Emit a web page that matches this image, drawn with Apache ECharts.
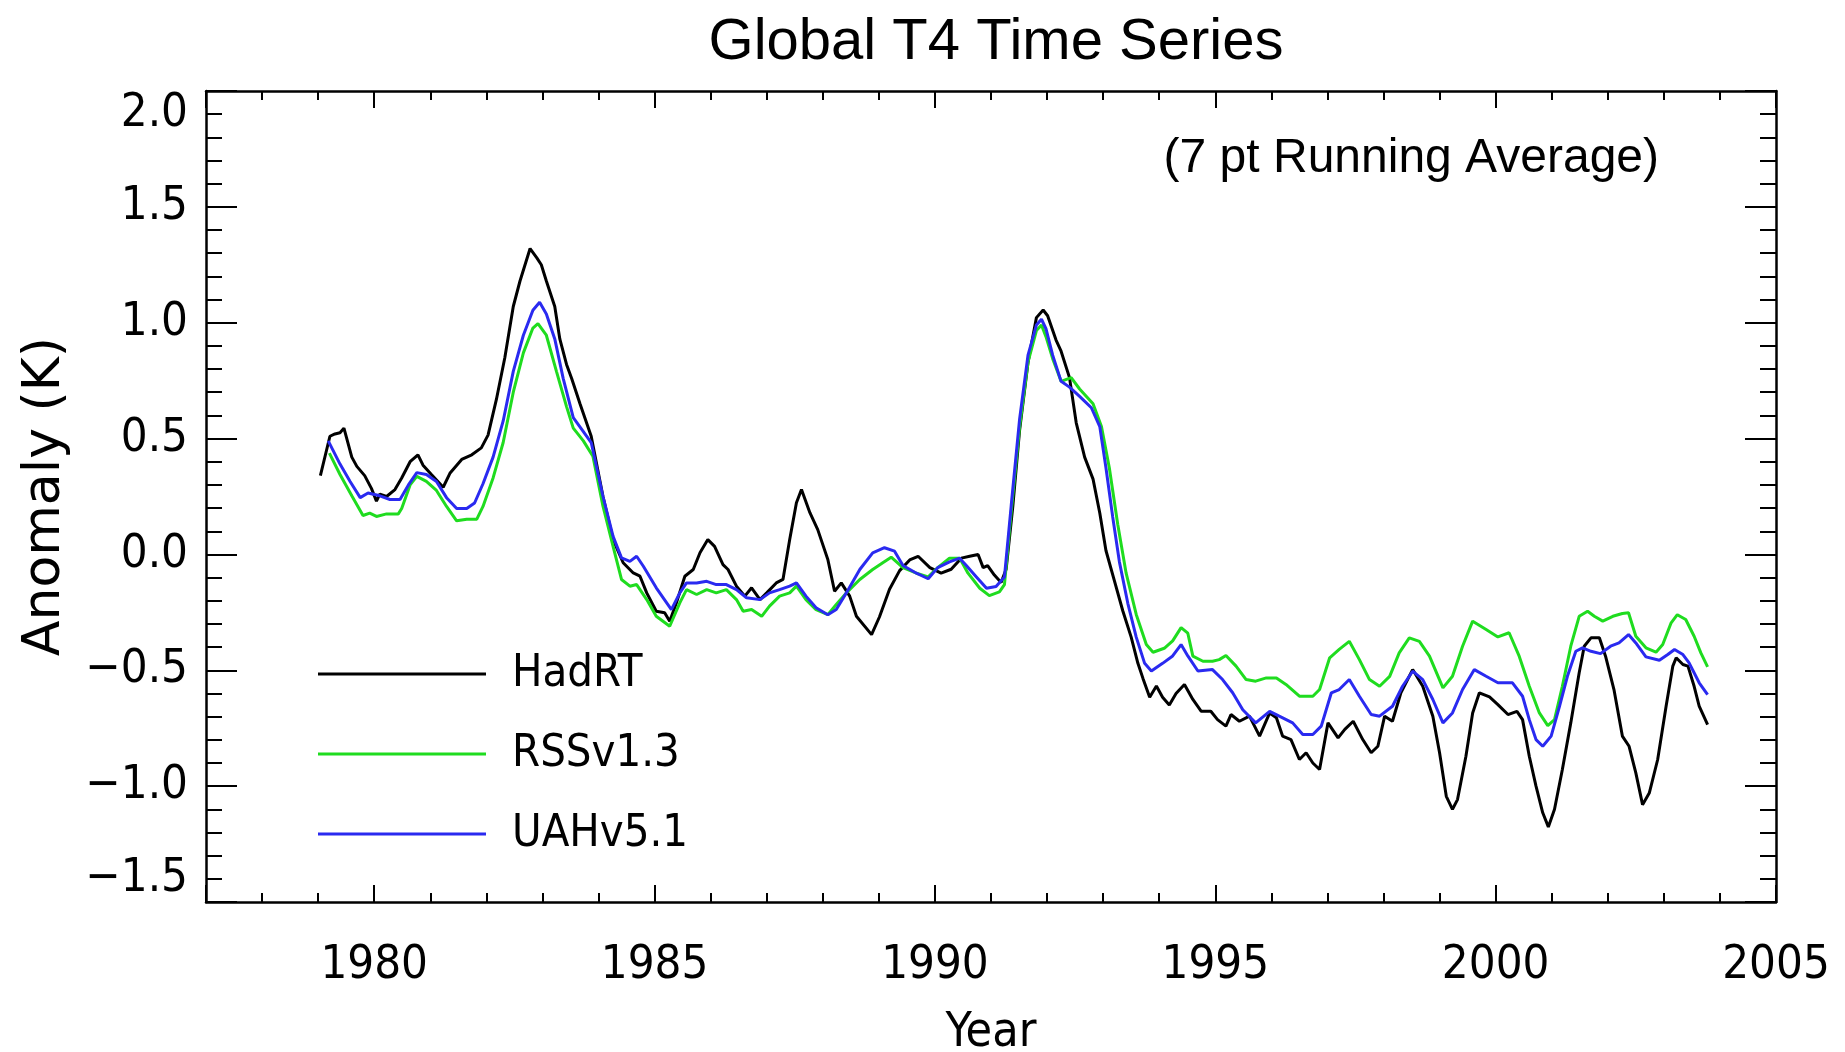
<!DOCTYPE html>
<html><head><meta charset="utf-8">
<script src="https://cdn.jsdelivr.net/npm/echarts@6/dist/echarts.min.js"></script>
<style>html,body{margin:0;padding:0;background:#fff}#c{width:1845px;height:1052px}</style>
</head><body><div id="c"></div>
<script>
// ---- data ----
const seriesNames = ['HadRT', 'RSSv1.3', 'UAHv5.1'];
const yTickValues = [-1.5, -1.0, -0.5, 0.0, 0.5, 1.0, 1.5, 2.0];

const hadrtYears = [1979.04,1979.21,1979.30,1979.39,1979.46,1979.60,1979.69,1979.83,1979.95,1980.04,1980.10,1980.22,1980.37,1980.49,1980.64,1980.78,1980.87,1981.02,1981.23,1981.35,1981.56,1981.74,1981.91,1982.03,1982.18,1982.33,1982.48,1982.60,1982.78,1982.90,1982.98,1983.07,1983.22,1983.31,1983.43,1983.52,1983.67,1983.87,1984.08,1984.26,1984.44,1984.62,1984.74,1984.86,1985.03,1985.18,1985.27,1985.39,1985.54,1985.69,1985.81,1985.95,1986.07,1986.22,1986.31,1986.46,1986.61,1986.73,1986.88,1987.00,1987.17,1987.29,1987.41,1987.53,1987.62,1987.77,1987.91,1988.09,1988.21,1988.33,1988.48,1988.60,1988.87,1989.01,1989.19,1989.37,1989.55,1989.70,1989.91,1990.11,1990.29,1990.47,1990.62,1990.77,1990.86,1990.94,1991.06,1991.18,1991.27,1991.39,1991.51,1991.66,1991.81,1991.93,1992.01,1992.16,1992.25,1992.40,1992.52,1992.67,1992.82,1992.94,1993.05,1993.20,1993.35,1993.50,1993.62,1993.71,1993.83,1993.95,1994.06,1994.18,1994.30,1994.45,1994.60,1994.75,1994.92,1995.04,1995.19,1995.28,1995.43,1995.61,1995.79,1995.97,1996.09,1996.20,1996.35,1996.50,1996.62,1996.74,1996.86,1997.01,1997.19,1997.31,1997.46,1997.63,1997.78,1997.90,1998.02,1998.16,1998.31,1998.52,1998.70,1998.88,1999.00,1999.12,1999.23,1999.32,1999.47,1999.59,1999.71,1999.89,2000.04,2000.22,2000.38,2000.48,2000.60,2000.72,2000.84,2000.94,2001.05,2001.19,2001.34,2001.49,2001.58,2001.70,2001.85,2001.96,2002.11,2002.26,2002.38,2002.50,2002.62,2002.74,2002.89,2003.04,2003.16,2003.22,2003.34,2003.43,2003.54,2003.63,2003.78];
const hadrtValues = [0.34,0.51,0.52,0.525,0.545,0.42,0.38,0.34,0.285,0.23,0.26,0.25,0.28,0.33,0.40,0.43,0.385,0.345,0.29,0.35,0.41,0.43,0.46,0.515,0.67,0.85,1.07,1.18,1.32,1.28,1.25,1.18,1.07,0.93,0.82,0.76,0.65,0.51,0.25,0.064,-0.036,-0.08,-0.094,-0.166,-0.245,-0.252,-0.288,-0.209,-0.094,-0.065,0.007,0.064,0.035,-0.044,-0.065,-0.137,-0.18,-0.144,-0.195,-0.166,-0.123,-0.108,0.064,0.223,0.28,0.18,0.107,-0.022,-0.159,-0.123,-0.18,-0.267,-0.346,-0.27,-0.15,-0.07,-0.024,-0.008,-0.057,-0.081,-0.064,-0.016,-0.008,0.0,-0.057,-0.048,-0.089,-0.121,-0.064,0.21,0.536,0.828,1.022,1.055,1.03,0.925,0.877,0.763,0.568,0.42,0.325,0.179,0.017,-0.113,-0.243,-0.357,-0.47,-0.535,-0.616,-0.568,-0.616,-0.65,-0.60,-0.561,-0.626,-0.677,-0.677,-0.713,-0.741,-0.691,-0.72,-0.698,-0.784,-0.684,-0.705,-0.784,-0.799,-0.885,-0.856,-0.90,-0.928,-0.727,-0.792,-0.755,-0.72,-0.799,-0.856,-0.828,-0.698,-0.72,-0.597,-0.497,-0.569,-0.698,-0.856,-1.044,-1.10,-1.058,-0.871,-0.684,-0.597,-0.615,-0.648,-0.691,-0.677,-0.713,-0.871,-1.0,-1.115,-1.176,-1.10,-0.928,-0.727,-0.511,-0.396,-0.36,-0.36,-0.439,-0.583,-0.784,-0.828,-0.943,-1.08,-1.03,-0.885,-0.655,-0.482,-0.446,-0.475,-0.482,-0.569,-0.655,-0.734];

const rssYears = [1979.20,1979.39,1979.60,1979.80,1979.92,1980.04,1980.22,1980.43,1980.49,1980.64,1980.76,1980.93,1981.11,1981.29,1981.47,1981.65,1981.83,1981.94,1982.12,1982.30,1982.48,1982.66,1982.83,1982.92,1983.07,1983.25,1983.43,1983.55,1983.73,1983.90,1984.08,1984.26,1984.41,1984.56,1984.68,1984.86,1985.03,1985.27,1985.45,1985.57,1985.75,1985.93,1986.10,1986.28,1986.46,1986.58,1986.73,1986.91,1987.05,1987.23,1987.41,1987.53,1987.70,1987.88,1988.09,1988.24,1988.42,1988.66,1988.89,1989.07,1989.22,1989.43,1989.67,1989.88,1990.05,1990.26,1990.44,1990.59,1990.80,1990.97,1991.15,1991.24,1991.36,1991.51,1991.66,1991.81,1991.90,1991.98,1992.10,1992.25,1992.43,1992.58,1992.82,1992.97,1993.11,1993.26,1993.41,1993.59,1993.77,1993.89,1994.09,1994.24,1994.39,1994.51,1994.60,1994.78,1994.95,1995.07,1995.19,1995.37,1995.55,1995.72,1995.91,1996.09,1996.26,1996.50,1996.74,1996.86,1997.04,1997.21,1997.39,1997.57,1997.75,1997.93,1998.11,1998.28,1998.46,1998.64,1998.82,1999.06,1999.23,1999.41,1999.59,1999.83,2000.04,2000.24,2000.42,2000.60,2000.78,2000.93,2001.05,2001.19,2001.34,2001.49,2001.64,2001.76,2001.91,2002.09,2002.26,2002.37,2002.50,2002.68,2002.86,2002.98,2003.13,2003.24,2003.39,2003.54,2003.66,2003.78];
const rssValues = [0.437,0.345,0.253,0.168,0.178,0.164,0.175,0.175,0.198,0.30,0.337,0.315,0.276,0.207,0.145,0.152,0.152,0.207,0.33,0.483,0.70,0.87,0.977,0.996,0.946,0.79,0.638,0.545,0.49,0.424,0.208,0.035,-0.108,-0.137,-0.13,-0.195,-0.267,-0.31,-0.209,-0.152,-0.173,-0.152,-0.166,-0.152,-0.195,-0.245,-0.238,-0.267,-0.223,-0.18,-0.166,-0.137,-0.195,-0.238,-0.26,-0.216,-0.166,-0.108,-0.065,-0.036,-0.012,-0.057,-0.081,-0.097,-0.057,-0.016,-0.016,-0.081,-0.146,-0.178,-0.162,-0.13,0.18,0.55,0.83,0.966,0.99,0.94,0.845,0.747,0.763,0.714,0.65,0.552,0.374,0.13,-0.081,-0.259,-0.389,-0.422,-0.405,-0.373,-0.316,-0.34,-0.439,-0.461,-0.461,-0.454,-0.436,-0.482,-0.54,-0.547,-0.533,-0.533,-0.561,-0.612,-0.612,-0.583,-0.446,-0.41,-0.375,-0.454,-0.54,-0.569,-0.526,-0.425,-0.36,-0.375,-0.439,-0.576,-0.526,-0.396,-0.288,-0.324,-0.356,-0.338,-0.439,-0.569,-0.684,-0.739,-0.713,-0.569,-0.396,-0.267,-0.245,-0.267,-0.288,-0.267,-0.255,-0.252,-0.353,-0.403,-0.422,-0.389,-0.295,-0.26,-0.281,-0.353,-0.425,-0.485];

const uahYears = [1979.18,1979.39,1979.57,1979.75,1979.89,1980.10,1980.28,1980.46,1980.61,1980.76,1980.93,1981.11,1981.29,1981.47,1981.65,1981.79,1981.94,1982.12,1982.30,1982.48,1982.66,1982.83,1982.95,1983.07,1983.22,1983.37,1983.55,1983.73,1983.87,1984.08,1984.26,1984.41,1984.56,1984.68,1984.80,1985.03,1985.30,1985.45,1985.57,1985.75,1985.93,1986.10,1986.28,1986.46,1986.64,1986.88,1987.05,1987.23,1987.41,1987.53,1987.70,1987.88,1988.09,1988.24,1988.42,1988.66,1988.89,1989.10,1989.28,1989.43,1989.67,1989.88,1990.05,1990.26,1990.44,1990.56,1990.74,1990.92,1991.09,1991.24,1991.36,1991.51,1991.66,1991.81,1991.90,1991.98,1992.10,1992.25,1992.40,1992.58,1992.79,1992.94,1993.05,1993.17,1993.29,1993.44,1993.59,1993.74,1993.86,1994.06,1994.24,1994.39,1994.51,1994.69,1994.95,1995.13,1995.31,1995.49,1995.72,1995.97,1996.14,1996.38,1996.56,1996.74,1996.89,1997.07,1997.21,1997.39,1997.57,1997.78,1997.93,1998.16,1998.34,1998.52,1998.70,1998.88,1999.06,1999.23,1999.41,1999.62,1999.83,2000.04,2000.30,2000.48,2000.60,2000.72,2000.84,2000.99,2001.14,2001.28,2001.43,2001.55,2001.70,2001.87,2002.05,2002.20,2002.37,2002.50,2002.68,2002.92,2003.07,2003.19,2003.34,2003.45,2003.63,2003.78];
const uahValues = [0.49,0.39,0.315,0.245,0.265,0.253,0.237,0.237,0.30,0.353,0.345,0.315,0.245,0.198,0.198,0.222,0.305,0.42,0.576,0.79,0.946,1.054,1.088,1.038,0.93,0.76,0.59,0.53,0.483,0.25,0.078,-0.015,-0.03,-0.008,-0.051,-0.144,-0.238,-0.166,-0.123,-0.123,-0.116,-0.13,-0.13,-0.152,-0.187,-0.195,-0.166,-0.152,-0.137,-0.123,-0.18,-0.23,-0.26,-0.238,-0.166,-0.065,0.007,0.029,0.014,-0.048,-0.081,-0.105,-0.057,-0.032,-0.016,-0.048,-0.097,-0.146,-0.138,-0.097,0.21,0.584,0.86,0.99,1.015,0.974,0.86,0.747,0.722,0.682,0.633,0.552,0.374,0.163,-0.032,-0.211,-0.357,-0.47,-0.503,-0.47,-0.438,-0.389,-0.438,-0.503,-0.497,-0.54,-0.597,-0.67,-0.727,-0.677,-0.698,-0.727,-0.777,-0.777,-0.741,-0.597,-0.583,-0.54,-0.612,-0.691,-0.698,-0.655,-0.569,-0.504,-0.54,-0.626,-0.727,-0.684,-0.583,-0.497,-0.526,-0.554,-0.554,-0.612,-0.713,-0.799,-0.828,-0.784,-0.655,-0.526,-0.418,-0.403,-0.418,-0.428,-0.396,-0.382,-0.346,-0.382,-0.442,-0.457,-0.432,-0.41,-0.432,-0.468,-0.554,-0.605];

// ---- chart ----
const NARROW = "'Liberation Sans Narrow', 'DejaVu Sans Condensed', 'Liberation Sans', sans-serif";
const REG = "'Liberation Sans', sans-serif";
const WIDE = "'DejaVu Sans', sans-serif";
const colors = ['#000000', '#1fdc1f', '#2a2af0'];
const TICKFS = 47;

const zip = (xs, ys) => xs.map((x, i) => [x, ys[i]]);
const fmtY = v => {
  const s = Math.abs(v).toFixed(1);
  const t = (v < 0 ? '\u2212' : '') + s;
  if (v === yTickValues[yTickValues.length - 1]) return '{top|' + t + '}';
  if (v === yTickValues[0]) return '{bot|' + t + '}';
  return t;
};
const labelRich = {
  top: {fontFamily: NARROW, fontSize: TICKFS, color: '#000', padding: [46, 0, 0, 0]},
  bot: {fontFamily: NARROW, fontSize: TICKFS, color: '#000', padding: [0, 0, 46, 0]}
};
const axisLine = {show: true, onZero: false, lineStyle: {color: '#000', width: 2.5}};

const chart = echarts.init(document.getElementById('c'), null, {renderer: 'canvas'});
chart.setOption({
  animation: false,
  backgroundColor: '#fff',
  title: [
    {text: 'Global T4 Time Series', left: 991, top: 9, textAlign: 'center',
     textStyle: {fontFamily: REG, fontSize: 58, fontWeight: 'normal', color: '#000'}},
    {text: '(7 pt Running Average)', right: 181, top: 130,
     textStyle: {fontFamily: REG, fontSize: 48, fontWeight: 'normal', color: '#000'}}
  ],
  legend: {
    orient: 'vertical', left: 313, top: 644, icon: 'rect',
    itemWidth: 168, itemHeight: 3, itemGap: 30, selectedMode: false,
    textStyle: {fontFamily: NARROW, fontSize: 45, color: '#000', lineHeight: 50, padding: [0, 0, 0, 21]},
    data: seriesNames
  },
  grid: {left: 206, right: 69, top: 91, bottom: 150, containLabel: false, outerBoundsMode: 'none'},
  xAxis: [
    {type: 'value', min: 1977, max: 2005, minInterval: 5, maxInterval: 5, position: 'bottom',
     axisLine: axisLine,
     axisTick: {show: true, inside: true, length: 17, lineStyle: {color: '#000', width: 2}},
     minorTick: {show: true, splitNumber: 5, length: 9, lineStyle: {color: '#000', width: 2}},
     splitLine: {show: false}, minorSplitLine: {show: false},
     axisLabel: {show: true, margin: 40, fontFamily: NARROW, fontSize: TICKFS, color: '#000',
                 showMinLabel: false, formatter: v => (v % 5 === 0 ? String(v) : '')},
     name: 'Year', nameLocation: 'middle', nameGap: 108, nameMoveOverlap: false,
     nameTextStyle: {fontFamily: NARROW, fontSize: 48, color: '#000'}},
    {type: 'value', min: 1977, max: 2005, minInterval: 5, maxInterval: 5, position: 'top',
     axisLine: axisLine,
     axisTick: {show: true, inside: true, length: 17, lineStyle: {color: '#000', width: 2}},
     minorTick: {show: true, splitNumber: 5, length: 9, lineStyle: {color: '#000', width: 2}},
     splitLine: {show: false}, axisLabel: {show: false}}
  ],
  yAxis: [
    {type: 'value', min: -1.5, max: 2.0, interval: 0.5, position: 'left',
     axisLine: axisLine,
     axisTick: {show: true, inside: true, length: 31, lineStyle: {color: '#000', width: 2}},
     minorTick: {show: true, splitNumber: 5, length: 16, lineStyle: {color: '#000', width: 2}},
     splitLine: {show: false}, minorSplitLine: {show: false},
     axisLabel: {show: true, margin: 18, fontFamily: NARROW, fontSize: TICKFS, color: '#000',
                 formatter: fmtY, rich: labelRich},
     name: 'Anomaly (K)', nameLocation: 'middle', nameRotate: 90, nameGap: 135, nameMoveOverlap: false,
     nameTextStyle: {fontFamily: WIDE, fontSize: 52, color: '#000'}},
    {type: 'value', min: -1.5, max: 2.0, interval: 0.5, position: 'right',
     axisLine: axisLine,
     axisTick: {show: true, inside: true, length: 31, lineStyle: {color: '#000', width: 2}},
     minorTick: {show: true, splitNumber: 5, length: 16, lineStyle: {color: '#000', width: 2}},
     splitLine: {show: false}, axisLabel: {show: false}}
  ],
  series: [
    {name: seriesNames[0], type: 'line', data: zip(hadrtYears, hadrtValues), showSymbol: false,
     xAxisIndex: 0, yAxisIndex: 0, lineStyle: {color: colors[0], width: 3}, itemStyle: {color: colors[0]}},
    {name: seriesNames[1], type: 'line', data: zip(rssYears, rssValues), showSymbol: false,
     xAxisIndex: 0, yAxisIndex: 0, lineStyle: {color: colors[1], width: 3}, itemStyle: {color: colors[1]}},
    {name: seriesNames[2], type: 'line', data: zip(uahYears, uahValues), showSymbol: false,
     xAxisIndex: 0, yAxisIndex: 0, lineStyle: {color: colors[2], width: 3}, itemStyle: {color: colors[2]}}
  ]
});
</script></body></html>
